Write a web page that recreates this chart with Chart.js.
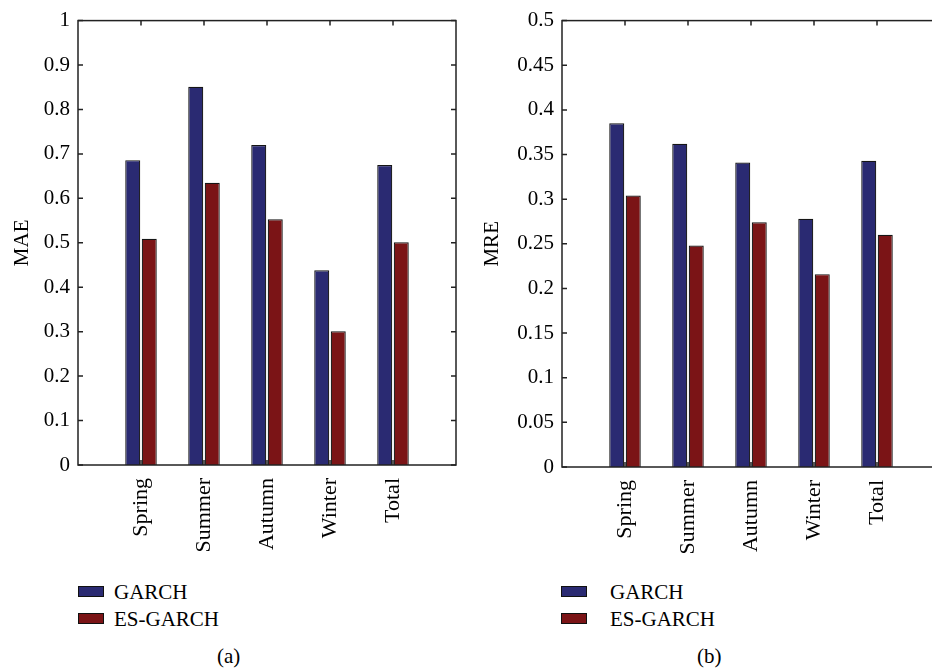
<!DOCTYPE html>
<html>
<head>
<meta charset="utf-8">
<script src="https://cdn.jsdelivr.net/npm/chart.js@4.4.1/dist/chart.umd.min.js"></script>
<style>
  body { margin: 0; width: 932px; height: 672px; overflow: hidden; background: #fff; position: relative; font-family: "Liberation Serif", serif; color: #000; }
  canvas { position: absolute; top: 0; }
  .leg { position: absolute; font-size: 21px; line-height: 21px; white-space: nowrap; }
  .box { position: absolute; width: 24px; height: 9px; border: 1px solid #111; }
</style>
</head>
<body>
<canvas id="maeChart" width="466" height="560" style="left:0"></canvas>
<canvas id="mreChart" width="480" height="560" style="left:470px"></canvas>

<div class="box" id="boxA1" style="left:78px; top:586px"></div>
<div class="leg" style="left:114px; top:582px">GARCH</div>
<div class="box" id="boxA2" style="left:78px; top:613px"></div>
<div class="leg" style="left:114px; top:609px">ES-GARCH</div>
<div class="leg" style="left:217px; top:646px">(a)</div>

<div class="box" id="boxB1" style="left:561px; top:586px"></div>
<div class="leg" style="left:610px; top:582px">GARCH</div>
<div class="box" id="boxB2" style="left:561px; top:613px"></div>
<div class="leg" style="left:610px; top:609px">ES-GARCH</div>
<div class="leg" style="left:697px; top:646px">(b)</div>

<script>
const categories = ['Spring', 'Summer', 'Autumn', 'Winter', 'Total'];
const seriesNames = ['GARCH', 'ES-GARCH'];
const maeGarch = [0.686, 0.851, 0.720, 0.438, 0.675];
const maeEsGarch = [0.509, 0.635, 0.553, 0.301, 0.501];
const mreGarch = [0.385, 0.362, 0.341, 0.278, 0.343];
const mreEsGarch = [0.304, 0.248, 0.274, 0.216, 0.260];

const garchColor = '#2a2a72';
const esColor = '#7b1416';

['boxA1', 'boxB1'].forEach(id => document.getElementById(id).style.background = garchColor);
['boxA2', 'boxB2'].forEach(id => document.getElementById(id).style.background = esColor);

// blank slot at each end so categories sit at 1..5 on a 0..6 axis
const paddedLabels = ['', ...categories, ''];
const pad = arr => [null, ...arr, null];

// box around the plot with inward ticks
const framePlugin = {
    id: 'frame',
    afterDatasetsDraw(chart) {
        const ctx = chart.ctx;
        const a = chart.chartArea;
        const x = chart.scales.x;
        const y = chart.scales.y;
        ctx.save();
        ctx.strokeStyle = '#222';
        ctx.lineWidth = 1.5;
        ctx.strokeRect(a.left, a.top, a.right - a.left, a.bottom - a.top);
        ctx.beginPath();
        y.ticks.forEach(t => {
            const py = y.getPixelForValue(t.value);
            ctx.moveTo(a.left, py); ctx.lineTo(a.left + 5, py);
            ctx.moveTo(a.right, py); ctx.lineTo(a.right - 5, py);
        });
        x.ticks.forEach(t => {
            if (!chart.data.labels[t.value]) return;
            const px = x.getPixelForValue(t.value);
            ctx.moveTo(px, a.top); ctx.lineTo(px, a.top + 5);
            ctx.moveTo(px, a.bottom); ctx.lineTo(px, a.bottom - 5);
        });
        ctx.stroke();
        ctx.restore();
    }
};

function makeChart(id, title, garch, esGarch, yMax, yStep, yWidth, top, bottom) {
    const ctx = document.getElementById(id).getContext('2d');
    const h = ctx.canvas.height;
    return new Chart(ctx, {
        type: 'bar',
        data: {
            labels: paddedLabels,
            datasets: [{
                label: seriesNames[0],
                data: pad(garch),
                backgroundColor: garchColor,
                borderColor: '#151515',
                borderWidth: 1.2,
                categoryPercentage: 0.524,
                barPercentage: 0.91
            }, {
                label: seriesNames[1],
                data: pad(esGarch),
                backgroundColor: esColor,
                borderColor: '#151515',
                borderWidth: 1.2,
                categoryPercentage: 0.524,
                barPercentage: 0.91
            }]
        },
        options: {
            responsive: false,
            animation: false,
            layout: { padding: { top: top, right: 10, left: 0, bottom: 0 } },
            plugins: {
                legend: { display: false },
                tooltip: { enabled: false }
            },
            scales: {
                x: {
                    offset: false,
                    grid: { display: false },
                    border: { display: false },
                    ticks: {
                        autoSkip: false,
                        maxRotation: 90,
                        minRotation: 90,
                        padding: 5,
                        color: '#000',
                        font: { family: 'Liberation Serif', size: 22 }
                    },
                    afterFit(scale) {
                        scale.height = h - bottom;
                        scale.paddingLeft = 0;
                        scale.paddingRight = 0;
                    }
                },
                y: {
                    min: 0,
                    max: yMax,
                    grid: { display: false, drawTicks: false },
                    border: { display: false },
                    ticks: {
                        stepSize: yStep,
                        padding: 8,
                        color: '#000',
                        font: { family: 'Liberation Serif', size: 21 },
                        callback: v => String(+v.toFixed(2))
                    },
                    title: {
                        display: true,
                        text: title,
                        color: '#000',
                        padding: { top: 10, bottom: 0 },
                        font: { family: 'Liberation Serif', size: 21 }
                    },
                    afterFit(scale) { scale.width = yWidth; }
                }
            }
        },
        plugins: [framePlugin]
    });
}

makeChart('maeChart', 'MAE', maeGarch, maeEsGarch, 1, 0.1, 78, 16, 465);
makeChart('mreChart', 'MRE', mreGarch, mreEsGarch, 0.5, 0.05, 92, 18, 467);
</script>
</body>
</html>
